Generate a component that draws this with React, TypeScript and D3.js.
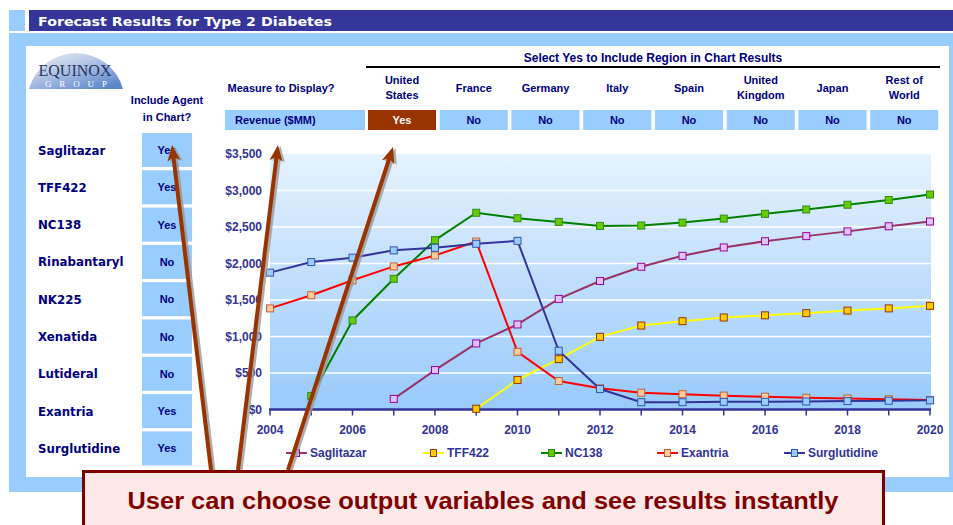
import React, { useEffect, useRef } from 'react';
import * as d3 from 'd3';

// chart data (revenue, $MM)
const years = [2004, 2005, 2006, 2007, 2008, 2009, 2010, 2011, 2012, 2013, 2014, 2015, 2016, 2017, 2018, 2019, 2020];
const saglitazar = [null, null, null, 145, 540, 905, 1165, 1515, 1760, 1955, 2105, 2220, 2305, 2375, 2440, 2510, 2575];
const tff422 = [null, null, null, null, null, 10, 405, 690, 995, 1150, 1210, 1260, 1290, 1320, 1355, 1385, 1420];
const nc138 = [null, 185, 1220, 1790, 2320, 2695, 2620, 2570, 2515, 2520, 2560, 2615, 2680, 2740, 2805, 2870, 2945];
const exantria = [1385, 1565, 1770, 1960, 2110, 2300, 790, 390, 290, 230, 210, 190, 175, 160, 150, 140, 130];
const surglutidine = [1875, 2020, 2080, 2180, 2215, 2270, 2310, 805, 280, 100, 100, 105, 105, 110, 115, 120, 125];

const yTicks = [0, 500, 1000, 1500, 2000, 2500, 3000, 3500];
const xTickLabels = [2004, 2006, 2008, 2010, 2012, 2014, 2016, 2018, 2020];

// control panel
const agents = ['Saglitazar', 'TFF422', 'NC138', 'Rinabantaryl', 'NK225', 'Xenatida', 'Lutideral', 'Exantria', 'Surglutidine'];
const agentIncluded = ['Yes', 'Yes', 'Yes', 'No', 'No', 'No', 'No', 'Yes', 'Yes'];
const regions = [['United', 'States'], ['France'], ['Germany'], ['Italy'], ['Spain'], ['United', 'Kingdom'], ['Japan'], ['Rest of', 'World']];
const regionIncluded = ['Yes', 'No', 'No', 'No', 'No', 'No', 'No', 'No'];

const series = [
  { name: 'Saglitazar', values: saglitazar, line: '#993366', fill: '#ddc4f5', stroke: '#990099' },
  { name: 'TFF422', values: tff422, line: '#ffff00', fill: '#ffcc00', stroke: '#993300' },
  { name: 'NC138', values: nc138, line: '#008000', fill: '#66cc00', stroke: '#2e8b22' },
  { name: 'Exantria', values: exantria, line: '#ff0000', fill: '#ffcc99', stroke: '#c0603a' },
  { name: 'Surglutidine', values: surglutidine, line: '#333399', fill: '#99ccff', stroke: '#3355aa' },
];
const legendX = [286, 423, 541, 657, 784];

const W = 953;
const H = 525;
const NAVY = '#000080';
const AXIS = '#333399';
const BOX = '#99ccff';

const App = () => {
  const ref = useRef<SVGSVGElement>(null);

  useEffect(() => {
    const svg = d3.select(ref.current);
    svg.selectAll('*').remove();
    const defs = svg.append('defs');

    const plotGrad = defs.append('linearGradient').attr('id', 'plotGrad')
      .attr('x1', 0).attr('y1', 0).attr('x2', 0).attr('y2', 1);
    plotGrad.append('stop').attr('offset', '0%').attr('stop-color', '#e6f2fe');
    plotGrad.append('stop').attr('offset', '100%').attr('stop-color', '#98cafb');

    const logoGrad = defs.append('linearGradient').attr('id', 'logoGrad')
      .attr('x1', 0).attr('y1', 0).attr('x2', 0.8).attr('y2', 1);
    logoGrad.append('stop').attr('offset', '0%').attr('stop-color', '#f2f4f8');
    logoGrad.append('stop').attr('offset', '45%').attr('stop-color', '#b4c6e6');
    logoGrad.append('stop').attr('offset', '100%').attr('stop-color', '#5a86cc');

    // frame
    svg.append('rect').attr('x', 9).attr('y', 10).attr('width', 16).attr('height', 21).attr('fill', BOX);
    svg.append('rect').attr('x', 29).attr('y', 10).attr('width', 924).attr('height', 21).attr('fill', '#35359a');
    svg.append('text').attr('x', 38).attr('y', 26)
      .attr('font-family', 'DejaVu Sans').attr('font-weight', 'bold').attr('font-size', 13)
      .attr('textLength', 294).attr('lengthAdjust', 'spacingAndGlyphs')
      .attr('fill', '#fff').text('Forecast Results for Type 2 Diabetes');
    svg.append('rect').attr('x', 9).attr('y', 33).attr('width', 944).attr('height', 459).attr('fill', BOX);
    svg.append('rect').attr('x', 26).attr('y', 46).attr('width', 923).attr('height', 431).attr('fill', '#fff');

    // logo
    svg.append('path').attr('d', 'M29,89 A48.7,48.7 0 0 1 123,89 Z').attr('fill', 'url(#logoGrad)');
    svg.append('text').attr('x', 75).attr('y', 76).attr('text-anchor', 'middle')
      .attr('font-family', 'Liberation Serif').attr('font-size', 17).attr('fill', '#26355f')
      .attr('textLength', 73).attr('lengthAdjust', 'spacingAndGlyphs').text('EQUINOX');
    svg.append('text').attr('x', 76).attr('y', 87).attr('text-anchor', 'middle')
      .attr('font-family', 'Liberation Serif').attr('font-size', 9).attr('fill', '#fff')
      .attr('textLength', 62).text('GROUP');

    const label = (x, y, t, opts: any = {}) =>
      svg.append('text').attr('x', x).attr('y', y)
        .attr('text-anchor', opts.anchor || 'middle')
        .attr('font-family', opts.family || 'Liberation Sans')
        .attr('font-weight', 'bold')
        .attr('font-size', opts.size || 11)
        .attr('fill', opts.fill || NAVY)
        .text(t);

    // agent selector
    label(167, 104, 'Include Agent');
    label(167, 121, 'in Chart?');
    const rowY = d3.scaleLinear().domain([0, 1]).range([133, 170.3]);
    agents.forEach((a, i) => {
      const y0 = rowY(i);
      svg.append('rect').attr('x', 142).attr('y', y0).attr('width', 50).attr('height', 34).attr('fill', BOX);
      label(38, y0 + 21.5, a, { anchor: 'start', family: 'DejaVu Sans', size: 11.8 });
      label(167, y0 + 21, agentIncluded[i], { size: 11 });
    });

    // measure + regions
    label(281, 92, 'Measure to Display?');
    svg.append('rect').attr('x', 225).attr('y', 110).attr('width', 140).attr('height', 20).attr('fill', BOX);
    label(235, 124, 'Revenue ($MM)', { anchor: 'start' });
    label(653, 62, 'Select Yes to Include Region in Chart Results', { size: 12 });
    svg.append('line').attr('x1', 366).attr('x2', 940).attr('y1', 67).attr('y2', 67)
      .attr('stroke', '#000').attr('stroke-width', 2);
    const colX = d3.scaleLinear().domain([0, 1]).range([366, 437.75]);
    regions.forEach((r, i) => {
      const cx = colX(i) + 36;
      if (r.length === 2) {
        label(cx, 84, r[0]);
        label(cx, 99, r[1]);
      } else {
        label(cx, 92, r[0]);
      }
      const yes = regionIncluded[i] === 'Yes';
      svg.append('rect').attr('x', colX(i) + 2).attr('y', 110).attr('width', 68).attr('height', 20)
        .attr('fill', yes ? '#993300' : BOX);
      label(cx, 124, regionIncluded[i], { fill: yes ? '#fff' : NAVY });
    });

    // chart
    const x = d3.scaleLinear().domain([2004, 2020]).range([270, 930]);
    const y = d3.scaleLinear().domain([0, 3500]).range([409.5, 154]);

    svg.append('rect').attr('x', 270).attr('y', y(3500)).attr('width', 661).attr('height', y(0) - y(3500))
      .attr('fill', 'url(#plotGrad)');
    yTicks.slice(1, -1).forEach((t) => {
      svg.append('line').attr('x1', 270).attr('x2', 931).attr('y1', y(t)).attr('y2', y(t))
        .attr('stroke', '#fff').attr('stroke-width', 1.5);
    });
    yTicks.forEach((t) => {
      label(262, y(t) + 4, d3.format('$,')(t), { anchor: 'end', size: 12, fill: AXIS });
    });
    years.forEach((yr) => {
      svg.append('line').attr('x1', x(yr)).attr('x2', x(yr)).attr('y1', y(0)).attr('y2', y(0) + 6)
        .attr('stroke', AXIS).attr('stroke-width', 1.5);
    });
    svg.append('line').attr('x1', 269).attr('x2', 931).attr('y1', y(0)).attr('y2', y(0))
      .attr('stroke', AXIS).attr('stroke-width', 2.5);
    xTickLabels.forEach((t) => label(x(t), 434, String(t), { size: 12, fill: AXIS }));

    const line = d3.line<any>()
      .defined((d) => d.v != null)
      .x((d) => x(d.year))
      .y((d) => y(d.v));

    series.forEach((s) => {
      const pts = years.map((year, i) => ({ year, v: s.values[i] }));
      svg.append('path').datum(pts).attr('d', line).attr('fill', 'none')
        .attr('stroke', s.line).attr('stroke-width', 2);
      svg.selectAll(null).data(pts.filter((d) => d.v != null)).enter().append('rect')
        .attr('x', (d) => x(d.year) - 3.5).attr('y', (d) => y(d.v) - 3.5)
        .attr('width', 7).attr('height', 7)
        .attr('fill', s.fill).attr('stroke', s.stroke).attr('stroke-width', 1);
    });

    // legend
    series.forEach((s, i) => {
      const lx = legendX[i];
      svg.append('line').attr('x1', lx).attr('x2', lx + 21).attr('y1', 453).attr('y2', 453)
        .attr('stroke', s.line).attr('stroke-width', 2);
      svg.append('rect').attr('x', lx + 7.5).attr('y', 449.5).attr('width', 6).attr('height', 7)
        .attr('fill', s.fill).attr('stroke', s.stroke);
      label(lx + 24, 457, s.name, { anchor: 'start', size: 12, fill: AXIS });
    });

    // annotation arrows
    const arrows = [
      [[211, 470], [172, 145]],
      [[238, 470], [278, 145]],
      [[288, 470], [393, 147]],
    ];
    const drawArrow = (g, tail, tip, color) => {
      const dx = tip[0] - tail[0];
      const dy = tip[1] - tail[1];
      const len = Math.hypot(dx, dy);
      const ux = dx / len;
      const uy = dy / len;
      const px = -uy;
      const py = ux;
      const L = 16;
      const hw = 6.5;
      const bx = tip[0] - ux * L;
      const by = tip[1] - uy * L;
      const nx = tip[0] - ux * (L - 4);
      const ny = tip[1] - uy * (L - 4);
      g.append('line').attr('x1', tail[0]).attr('y1', tail[1]).attr('x2', nx).attr('y2', ny)
        .attr('stroke', color).attr('stroke-width', 4);
      g.append('path')
        .attr('d', `M${tip[0]},${tip[1]} L${bx + px * hw},${by + py * hw} L${nx},${ny} L${bx - px * hw},${by - py * hw} Z`)
        .attr('fill', color);
    };
    const shadow = svg.append('g').attr('transform', 'translate(2.5,1)').attr('opacity', 0.8);
    arrows.forEach(([a, b]) => drawArrow(shadow, a, b, '#9a9a9a'));
    const arrowG = svg.append('g');
    arrows.forEach(([a, b]) => drawArrow(arrowG, a, b, '#993300'));

    // callout
    svg.append('rect').attr('x', 83.5).attr('y', 471.5).attr('width', 800).attr('height', 60)
      .attr('fill', '#fde8e8').attr('stroke', '#800000').attr('stroke-width', 3);
    svg.append('text').attr('x', 483).attr('y', 509).attr('text-anchor', 'middle')
      .attr('font-family', 'Liberation Sans').attr('font-weight', 'bold').attr('font-size', 23)
      .attr('textLength', 711).attr('lengthAdjust', 'spacingAndGlyphs')
      .attr('fill', '#800000').text('User can choose output variables and see results instantly');
  }, []);

  return (
    <svg ref={ref} width={W} height={H}
      style={{ position: 'absolute', left: 0, top: 0, background: '#fff' }} />
  );
};

export default App;
